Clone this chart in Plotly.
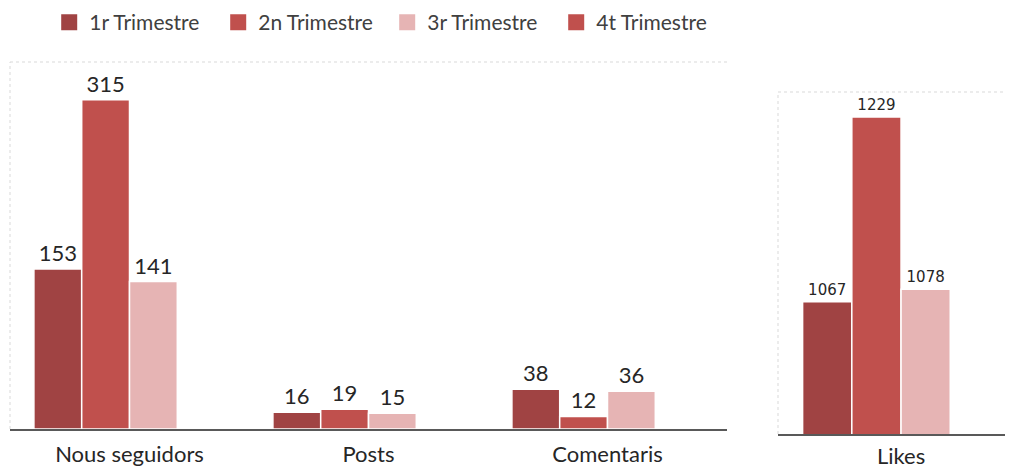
import plotly.graph_objects as go
from plotly.subplots import make_subplots

# data
categories = ['Nous seguidors', 'Posts', 'Comentaris']
likes_cat = ['Likes']
series_names = ['1r Trimestre', '2n Trimestre', '3r Trimestre', '4t Trimestre']
main_values = [
    [153, 16, 38],
    [315, 19, 12],
    [141, 15, 36],
    [None, None, None],
]
likes_values = [[1067], [1229], [1078], [None]]

COLORS = ['#A04343', '#C0504D', '#E6B4B4', '#C0504D']
TEXT = '#262626'

fig = make_subplots(rows=1, cols=2)

for i, name in enumerate(series_names):
    fig.add_trace(go.Bar(
        x=categories, y=main_values[i], name=name, legendgroup=name,
        marker=dict(color=COLORS[i], line=dict(color='white', width=1.5)),
        text=main_values[i], textposition='outside', cliponaxis=False,
        textfont=dict(family='Lato, sans-serif', size=22, color=TEXT),
        showlegend=False,
    ), row=1, col=1)
    fig.add_trace(go.Bar(
        x=likes_cat, y=likes_values[i], name=name, legendgroup=name,
        marker=dict(color=COLORS[i], line=dict(color='white', width=1.5)),
        text=likes_values[i], textposition='outside', cliponaxis=True,
        textfont=dict(family='DejaVu Sans, sans-serif', size=15, color=TEXT),
        showlegend=False,
    ), row=1, col=2)

# legend-only entries with larger square swatches
for i, name in enumerate(series_names):
    fig.add_trace(go.Scatter(
        x=[None], y=[None], mode='markers', name=name, legendgroup=name,
        marker=dict(symbol='square', size=18, color=COLORS[i]),
        showlegend=True, hoverinfo='skip',
    ), row=1, col=1)

# page body adds an 8px offset, so the figure is laid out in shifted pixel coords
W, H = 1005, 462
OFF = 8


def px_x(x):
    return (x - OFF) / W


def px_y(y):
    return 1 - (y - OFF) / H


fig.update_layout(
    width=W, height=H,
    paper_bgcolor='white', plot_bgcolor='white',
    margin=dict(l=0, r=0, t=0, b=0, autoexpand=False),
    barmode='group', bargap=0.2, bargroupgap=0,
    font=dict(family='Lato, sans-serif', color=TEXT),
    legend=dict(orientation='h', x=0.041, y=px_y(22.5), xanchor='left', yanchor='middle',
                font=dict(size=21, color='#404040'), itemwidth=30, entrywidth=124,
                itemsizing='trace'),
)

fig.update_xaxes(showline=True, linecolor='#595959', linewidth=1.5, layer='below traces',
                 showgrid=False, ticks='', automargin=False,
                 tickfont=dict(size=22, color=TEXT))
fig.update_xaxes(domain=[px_x(10), px_x(727)], ticklabelstandoff=5, row=1, col=1)
fig.update_xaxes(domain=[px_x(778), 1.0], range=[-0.5, 0.455], ticklabelstandoff=2,
                 row=1, col=2)
fig.update_yaxes(showticklabels=False, showgrid=False, zeroline=False, showline=False,
                 automargin=False)
fig.update_yaxes(domain=[px_y(429), px_y(62)], range=[0, 351], row=1, col=1)
fig.update_yaxes(domain=[px_y(434), px_y(92)], range=[951, 1251], row=1, col=2)

# faint panel frames
frame = dict(color='#d9d9d9', width=1, dash='dot')
for xr, yr in [('x domain', 'y domain'), ('x2 domain', 'y2 domain')]:
    fig.add_shape(type='line', xref=xr, yref=yr, x0=0, x1=0, y0=0, y1=1, line=frame)
    fig.add_shape(type='line', xref=xr, yref=yr, x0=0, x1=1, y0=1, y1=1, line=frame)
fig.add_shape(type='line', xref='x2 domain', yref='y2 domain', x0=0.99, x1=0.99, y0=0, y1=1, line=frame)

fig.write_html('out.html')
